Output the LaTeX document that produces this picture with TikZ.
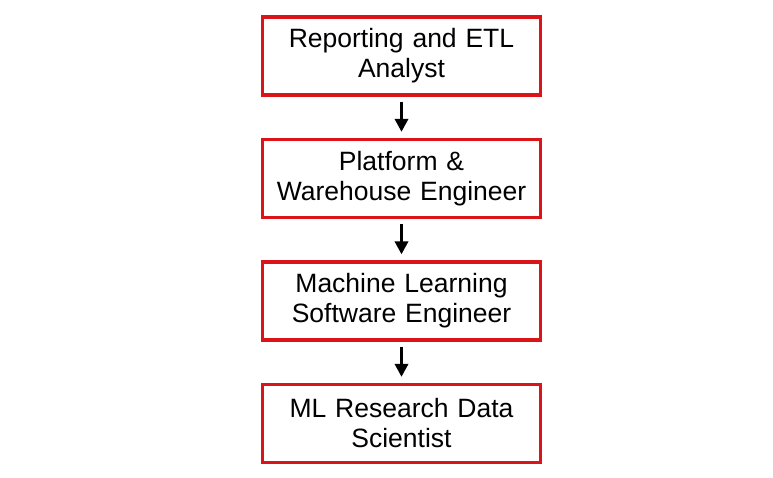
\documentclass[tikz,border=0pt]{standalone}
\usepackage{fontspec}
\setmainfont[WordSpace=0.7]{Liberation Sans}
\usetikzlibrary{positioning,arrows.meta}
\definecolor{boxred}{RGB}{218,20,24}
\begin{document}
\begin{tikzpicture}[x=1pt,y=1pt,node distance=122.5pt,on grid,>={Triangle[length=13pt,width=13pt]},
		role/.style={rectangle,draw=boxred,line width=3.2pt,minimum width=278pt,minimum height=78pt,
			text width=270pt,align=center,font=\fontsize{26.5}{30}\selectfont},
		step arrow/.style={->,line width=3.6pt,shorten <=5pt,shorten >=6pt}]
		\useasboundingbox (0,0) rectangle (773,-478);
		\node[role]  (etl)                    at (401.5,-56) {Reporting and ETL\\Analyst};
		\node[role]  (platform) [below=of etl]      {Platform \&\\Warehouse Engineer};
		\node[role]  (mlsw)     [below=of platform] {Machine Learning\\Software Engineer};
		\node[role]  (research) [below=of mlsw]     {ML Research Data\\Scientist};
		
		\draw[step arrow] (etl) -- (platform);
		\draw[step arrow] (platform) -- (mlsw);
		\draw[step arrow] (mlsw) -- (research);
		
		\end{tikzpicture}
\end{document}
